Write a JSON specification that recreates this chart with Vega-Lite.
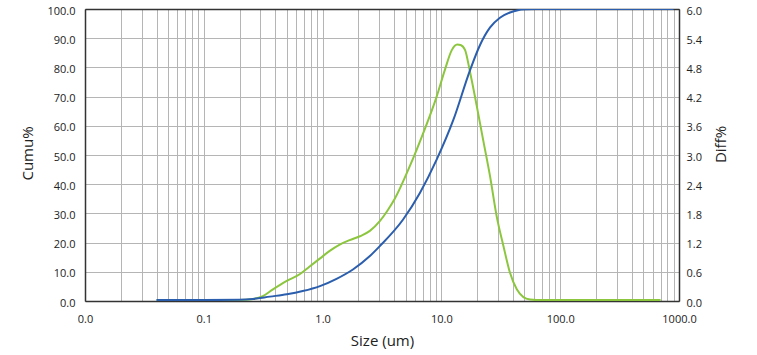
{
  "$schema": "https://vega.github.io/schema/vega-lite/v6.json",
  "autosize": {"type": "none"},
  "padding": {"left": 85, "top": 9, "right": 78, "bottom": 54},
  "width": 594,
  "height": 292,
  "background": "white",
  "config": {
    "font": "Open Sans",
    "view": {"stroke": null},
    "axis": {"labelColor": "#222", "titleColor": "#222", "labelFontSize": 11, "titleFontSize": 15, "titleFontWeight": "normal"}
  },
  "datasets": {
    "cumu": [
      {"size": 0.04, "cumu": 0.3}, {"size": 0.1, "cumu": 0.3}, {"size": 0.2, "cumu": 0.4},
      {"size": 0.26, "cumu": 0.7}, {"size": 0.36, "cumu": 1.5}, {"size": 0.5, "cumu": 2.3},
      {"size": 0.68, "cumu": 3.4}, {"size": 0.95, "cumu": 5.1}, {"size": 1.31, "cumu": 7.6},
      {"size": 1.8, "cumu": 10.8}, {"size": 2.5, "cumu": 15.4}, {"size": 3.03, "cumu": 18.8},
      {"size": 4.76, "cumu": 27.9}, {"size": 6.59, "cumu": 37}, {"size": 9.12, "cumu": 48.4},
      {"size": 12.6, "cumu": 62}, {"size": 17.4, "cumu": 79}, {"size": 21.1, "cumu": 87.6},
      {"size": 25.6, "cumu": 93.6}, {"size": 31.1, "cumu": 97.0}, {"size": 37.8, "cumu": 98.8},
      {"size": 44, "cumu": 99.6}, {"size": 52, "cumu": 99.9}, {"size": 62, "cumu": 100}, {"size": 900, "cumu": 100}
    ],
    "diff": [
      {"size": 0.04, "diff": 0.02}, {"size": 0.2, "diff": 0.02}, {"size": 0.259, "diff": 0.04},
      {"size": 0.314, "diff": 0.1}, {"size": 0.382, "diff": 0.24}, {"size": 0.495, "diff": 0.41},
      {"size": 0.641, "diff": 0.55}, {"size": 0.778, "diff": 0.71}, {"size": 0.946, "diff": 0.87},
      {"size": 1.148, "diff": 1.03}, {"size": 1.393, "diff": 1.16}, {"size": 1.69, "diff": 1.25},
      {"size": 2.06, "diff": 1.33}, {"size": 2.5, "diff": 1.44}, {"size": 3.03, "diff": 1.64},
      {"size": 3.5, "diff": 1.85}, {"size": 4.05, "diff": 2.1}, {"size": 5.42, "diff": 2.77},
      {"size": 7.03, "diff": 3.45}, {"size": 9.12, "diff": 4.2}, {"size": 10.7, "diff": 4.75},
      {"size": 12.2, "diff": 5.15}, {"size": 13.6, "diff": 5.27}, {"size": 14.5, "diff": 5.26},
      {"size": 15.8, "diff": 5.16}, {"size": 17.4, "diff": 4.71}, {"size": 19.8, "diff": 4.02},
      {"size": 22.5, "diff": 3.3}, {"size": 25.6, "diff": 2.58}, {"size": 29.2, "diff": 1.74},
      {"size": 33.2, "diff": 1.14}, {"size": 37.8, "diff": 0.58}, {"size": 43.1, "diff": 0.24},
      {"size": 49, "diff": 0.08}, {"size": 55.7, "diff": 0.03}, {"size": 63, "diff": 0.02},
      {"size": 700, "diff": 0.02}
    ]
  },
  "encoding": {
    "x": {
      "field": "size",
      "type": "quantitative",
      "scale": {"type": "log", "domain": [0.01, 1000], "nice": false},
      "axis": {
        "title": "Size (um)",
        "values": [0.01,0.02,0.03,0.04,0.05,0.06,0.07,0.08,0.09,0.1,0.2,0.3,0.4,0.5,0.6,0.7,0.8,0.9,1,2,3,4,5,6,7,8,9,10,20,30,40,50,60,70,80,90,100,200,300,400,500,600,700,800,900,1000],
        "labelExpr": "indexof([0.01,0.1,1,10,100,1000], datum.value) >= 0 ? format(datum.value, '.1f') : ''",
        "labelOverlap": false,
        "labelFlush": false,
        "labelPadding": 12,
        "ticks": false,
        "tickSize": 0,
        "domainColor": "#333",
        "domainWidth": 1.5,
        "grid": true,
        "gridColor": {"condition": {"test": "datum.value <= 0.01001 || datum.value >= 999", "value": "#333"}, "value": "#b5b5b5"},
        "gridWidth": 1,
        "titleBaseline": "alphabetic",
        "titleY": 44
      }
    }
  },
  "layer": [
    {
      "data": {"name": "diff"},
      "mark": {"type": "line", "color": "#8cc63f", "strokeWidth": 2, "interpolate": "monotone", "clip": true},
      "encoding": {
        "y": {
          "field": "diff",
          "type": "quantitative",
          "scale": {"domain": [0, 6], "nice": false, "zero": true},
          "axis": {
            "orient": "right",
            "title": "Diff%",
            "values": [0, 0.6, 1.2, 1.8, 2.4, 3.0, 3.6, 4.2, 4.8, 5.4, 6.0],
            "format": ".1f",
            "grid": false,
            "ticks": false,
            "tickSize": 0,
            "labelPadding": 7,
            "labelOffset": 2,
            "labelFlush": false,
            "domainColor": "#333",
            "domainWidth": 1.5,
            "titleAngle": 270,
            "titleBaseline": "alphabetic",
            "titleX": 46,
            "titleY": 135
          }
        }
      }
    },
    {
      "data": {"name": "cumu"},
      "mark": {"type": "line", "color": "#2b5ead", "strokeWidth": 2, "interpolate": "monotone", "clip": true},
      "encoding": {
        "y": {
          "field": "cumu",
          "type": "quantitative",
          "scale": {"domain": [0, 100], "nice": false},
          "axis": {
            "orient": "left",
            "title": "Cumu%",
            "values": [0, 10, 20, 30, 40, 50, 60, 70, 80, 90, 100],
            "format": ".1f",
            "grid": true,
            "gridColor": {"condition": {"test": "datum.value >= 100", "value": "#333"}, "value": "#b5b5b5"},
            "gridWidth": {"condition": {"test": "datum.value >= 100", "value": 1.5}, "value": 1},
            "ticks": false,
            "tickSize": 0,
            "labelPadding": 10,
            "labelOffset": 2,
            "labelFlush": false,
            "domainColor": "#333",
            "domainWidth": 1.5,
            "titleAngle": 270,
            "titleBaseline": "alphabetic",
            "titleX": -53,
            "titleY": 144
          }
        }
      }
    }
  ],
  "resolve": {"scale": {"y": "independent"}}
}
